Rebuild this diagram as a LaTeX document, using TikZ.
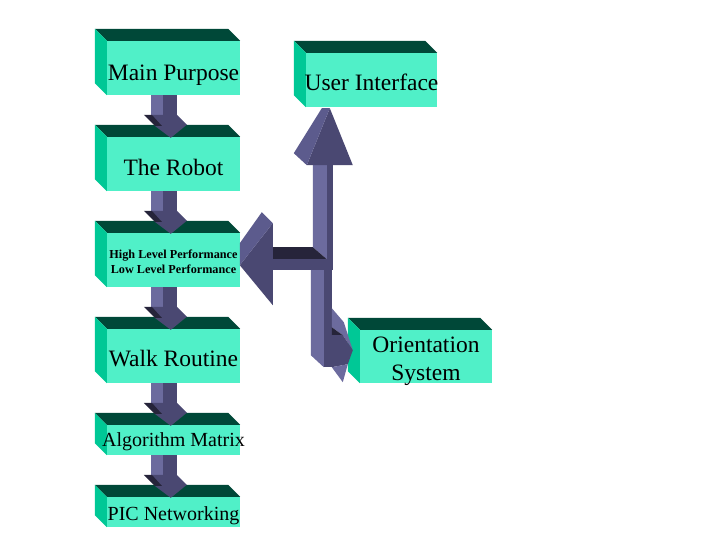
\documentclass[tikz,border=0pt]{standalone}
\usepackage{fontspec}
\setmainfont{Liberation Serif}
\usetikzlibrary{calc}
\definecolor{boxfront}{HTML}{50F0C8}
\definecolor{boxside}{HTML}{00C896}
\definecolor{boxtop}{HTML}{004838}
\definecolor{shlight}{HTML}{6C6B9E}
\definecolor{shmid}{HTML}{4A4872}
\definecolor{shdark}{HTML}{26243A}
\definecolor{shfacet}{HTML}{5C5B8D}
\tikzset{
  face/.style={fill=boxfront, inner sep=0pt},
  labbig/.style={font=\fontsize{23.5}{28}\selectfont, align=center, inner sep=0pt},
  labmid/.style={font=\fontsize{20}{24}\selectfont, inner sep=0pt},
  labsmall/.style={font=\bfseries\fontsize{12.2}{15}\selectfont, align=center, inner sep=0pt},
}
% slab: name, centre, width, height
\newcommand\slab[4]{%
  \node[face, minimum width=#3pt, minimum height=#4pt] (#1) at #2 {};
  \fill[boxtop] (#1.north west) -- ++(-12,-12) -- ($(#1.north east)+(-12,-12)$) -- (#1.north east) -- cycle;
  \fill[boxside] (#1.north west) -- ++(-12,-12) -- ($(#1.south west)+(-12,-12)$) -- (#1.south west) -- cycle;
}
% block arrow from #1 down to #2
\newcommand\dnarr[2]{%
  \begin{scope}[shift={($(#2.north west)+(64,1)$)}]
    \fill[shlight] ($(#1.south west)+(44,0)$) rectangle (-8,-16);
    \fill[shmid] ($(#1.south west)+(56,0)$) rectangle (6,-16);
    \fill[shmid] (-19,-23) -- (6,-23) -- (16,-13) -- (0,0) -- (-16,-12) -- cycle;
    \fill[shdark] (-27,-23) -- (-19,-23) -- (-9,-12) -- (-16,-12) -- cycle;
  \end{scope}}

\begin{document}
\begin{tikzpicture}[x=1pt,y=-1pt]
  \fill[white] (0,0) rectangle (720,540);
  \useasboundingbox (0,0) rectangle (720,540);

  % left column
  \slab{main}{(173.5,68)}{133}{54}
  \slab{robot}{(173.5,164)}{133}{54}
  \slab{perf}{(173.5,260)}{133}{54}
  \slab{walk}{(173.5,356)}{133}{54}
  \slab{algo}{(173.5,440)}{133}{30}
  \slab{pic}{(173.5,512)}{133}{30}
  % right side
  \slab{ui}{(371.5,80)}{131}{54}
  \slab{orient}{(426,356.5)}{132}{53}

  \foreach \a/\b in {main/robot,robot/perf,perf/walk,walk/algo,algo/pic}
    \dnarr{\a}{\b};

  % branching arrow
  \coordinate (hub) at ($(ui.south west)+(27,163)$);
  \begin{scope}[shift={(hub)}]
    % up to ui
    \fill[shlight] (-20,-105) -- (-6,-105) -- (-6,-11) -- (-20,-23) -- cycle;
    \fill[shmid] (-6,-105) rectangle (0,0);
    \fill[shmid] (-26,-105) -- (20,-105) -- (-3,-162) -- cycle;
    \fill[shfacet] (-11,-162) -- (-3,-162) -- (-26,-105) -- (-39,-117) -- cycle;
    % left to perf
    \fill[shdark] (-60,-23) -- (-20,-23) -- (-6,-11) -- (-60,-11) -- cycle;
    \fill[shmid] (-60,-11) rectangle (0,0);
    \fill[shmid] (-60,-47) -- (-60,35) -- (-93,-5) -- cycle;
    \fill[shfacet] (-71,-58) -- (-60,-47) -- (-93,-5) -- (-93,-27) -- cycle;
    % down and right to orient
    \fill[shlight] (-22,0) -- (-9,0) -- (-9,97) -- (-22,85) -- cycle;
    \fill[shmid] (-9,0) rectangle (-1,97);
    \fill[shlight] (-1,38) -- (11,52) -- (20,80) -- (10,65) -- (-1,57) -- cycle;
    \fill[shdark] (-1,57) -- (10,65) -- (-1,65) -- cycle;
    \fill[shmid] (-1,65) -- (10,65) -- (20,80) -- (15,94) -- (-1,97) -- cycle;
    \fill[shlight] (-1,97) -- (15,94) -- (10,112) -- cycle;
  \end{scope}

  % texts
  \node[labbig] (main-t) at ($(main)+(0,7)$) {Main Purpose};
  \node[labbig] (robot-t) at ($(robot)+(0,3)$) {The Robot};
  \node[labsmall] (perf-t) at ($(perf)+(0,1.5)$) {High Level Performance\\Low Level Performance};
  \node[labbig] (walk-t) at ($(walk)+(0,3)$) {Walk Routine};
  \node[labmid] (algo-t) at ($(algo)+(0,2)$) {Algorithm Matrix};
  \node[labmid] (pic-t) at ($(pic)+(0,4)$) {PIC Networking};
  \node[labbig] (ui-t) at ($(ui)+(0,2)$) {User Interface};
  \node[labbig] (orient-t) at ($(orient)+(0,5)$) {Orientation\\System};
\end{tikzpicture}
\end{document}
